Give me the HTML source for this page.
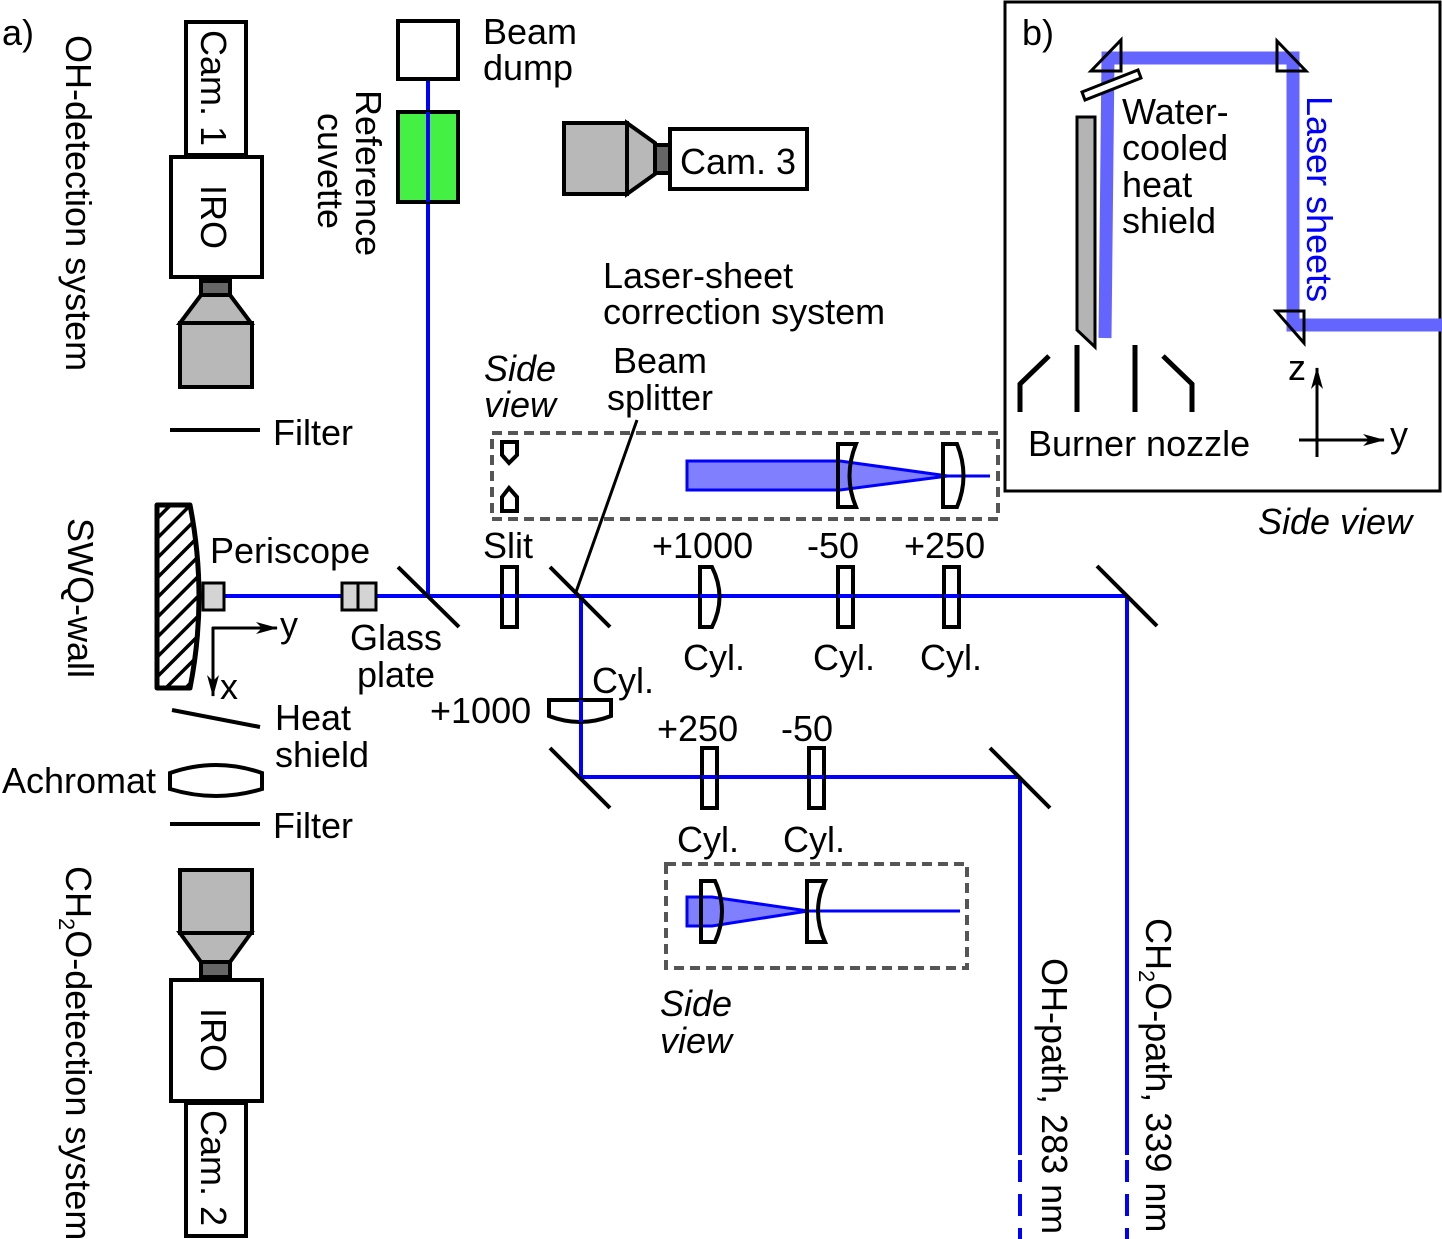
<!DOCTYPE html>
<html><head><meta charset="utf-8"><style>html,body{margin:0;padding:0;background:#fff}svg{display:block}text{font-family:"Liberation Sans",Arial,sans-serif;font-size:36px;fill:#000}</style></head><body>
<svg width="1442" height="1239" viewBox="0 0 1442 1239" xmlns="http://www.w3.org/2000/svg">
<defs>
<pattern id="h" width="14" height="14" patternUnits="userSpaceOnUse" patternTransform="rotate(45)"><rect width="14" height="14" fill="#fff"/><rect width="3.5" height="14" fill="#000"/></pattern>
<marker id="ar" markerWidth="22" markerHeight="14" refX="21" refY="7" orient="auto" markerUnits="userSpaceOnUse"><path d="M0,1 L22,7 L0,13 L6,7 Z" fill="#000"/></marker>
</defs>
<g fill="none" stroke-linecap="butt">
<g stroke="#0000ff" stroke-width="4">
<line x1="428" y1="80" x2="428" y2="596"/>
<line x1="222" y1="596" x2="1127" y2="596"/>
<line x1="1127" y1="596" x2="1127" y2="1155"/>
<line x1="1127" y1="1160" x2="1127" y2="1239" stroke-dasharray="22,12"/>
<line x1="581" y1="596" x2="581" y2="777"/>
<line x1="581" y1="777" x2="1020" y2="777"/>
<line x1="1020" y1="777" x2="1020" y2="1155"/>
<line x1="1020" y1="1160" x2="1020" y2="1239" stroke-dasharray="22,12"/>
</g>
<g stroke="#000" stroke-width="4">
<line x1="398" y1="567" x2="459" y2="627"/>
<line x1="550" y1="567" x2="610" y2="627"/>
<line x1="550" y1="748" x2="610" y2="808"/>
<line x1="990" y1="748" x2="1050" y2="808"/>
<line x1="1097" y1="566" x2="1157" y2="626"/>
<line x1="637" y1="420" x2="576" y2="592" stroke-width="3"/>
<line x1="170" y1="430" x2="260" y2="430"/>
<line x1="170" y1="824" x2="260" y2="824"/>
<line x1="172" y1="710" x2="260" y2="727"/>
</g>
<rect x="398" y="21" width="60" height="58" fill="#fff" stroke="#000" stroke-width="4"/>
<rect x="398" y="112" width="60" height="90" fill="#44f044" stroke="#000" stroke-width="4"/>
<line x1="428" y1="112" x2="428" y2="202" stroke="#0000ff" stroke-width="4"/>
<g stroke="#000" stroke-width="4">
<rect x="186" y="22" width="60" height="133" fill="#fff"/>
<rect x="171" y="157" width="91" height="120" fill="#fff"/>
<rect x="201" y="281" width="29" height="14" fill="#666"/>
<path d="M201,295 L230,295 L251,323 L180,323 Z" fill="#b8b8b8"/>
<rect x="180" y="323" width="72" height="64" fill="#b8b8b8"/>
<rect x="180" y="870" width="72" height="63" fill="#b8b8b8"/>
<path d="M180,933 L251,933 L230,962 L201,962 Z" fill="#b8b8b8"/>
<rect x="201" y="962" width="29" height="15" fill="#666"/>
<rect x="171" y="980" width="91" height="121" fill="#fff"/>
<rect x="186" y="1103" width="60" height="133" fill="#fff"/>
<rect x="564" y="123" width="63" height="71" fill="#b8b8b8"/>
<path d="M627,123 L655,143 L655,174 L627,194 Z" fill="#b8b8b8"/>
<rect x="655" y="145" width="15" height="28" fill="#666"/>
<rect x="670" y="129" width="137" height="60" fill="#fff"/>
<path d="M157,505 L190,505 Q208,597 190,688 L157,688 Z" fill="url(#h)" stroke-width="5" stroke-linejoin="round"/>
<rect x="203" y="583" width="21" height="27" fill="#d4d4d4" stroke-width="3"/>
<rect x="342" y="583" width="34" height="27" fill="#d4d4d4" stroke-width="3"/>
<line x1="358" y1="583" x2="358" y2="610" stroke-width="3"/>
<rect x="502" y="567" width="15" height="60" fill="#fff"/>
<path d="M700,567 L712,567 Q727,597 712,627 L700,627 Z" fill="#fff"/>
<rect x="838" y="567" width="15" height="60" fill="#fff"/>
<rect x="944" y="567" width="15" height="60" fill="#fff"/>
<rect x="702" y="748" width="15" height="60" fill="#fff"/>
<rect x="809" y="748" width="15" height="60" fill="#fff"/>
<path d="M549,700 L611,700 L611,716 Q580,728 549,716 Z" fill="#fff"/>
<path d="M170,773 Q216,757 262,773 L262,789 Q216,803 170,789 Z" fill="#fff"/>
</g>
<line x1="502" y1="596" x2="517" y2="596" stroke="#0000ff" stroke-width="4"/>
<line x1="838" y1="596" x2="853" y2="596" stroke="#0000ff" stroke-width="4"/>
<line x1="944" y1="596" x2="959" y2="596" stroke="#0000ff" stroke-width="4"/>
<line x1="700" y1="596" x2="718" y2="596" stroke="#0000ff" stroke-width="4"/>
<line x1="702" y1="777" x2="717" y2="777" stroke="#0000ff" stroke-width="4"/>
<line x1="809" y1="777" x2="824" y2="777" stroke="#0000ff" stroke-width="4"/>
<line x1="581" y1="700" x2="581" y2="722" stroke="#0000ff" stroke-width="4"/>
<g stroke="#000" stroke-width="3">
<line x1="212" y1="628" x2="277" y2="628" marker-end="url(#ar)"/>
<line x1="213" y1="627" x2="213" y2="696" marker-end="url(#ar)"/>
</g>
<rect x="492" y="433" width="506" height="86" stroke="#555" stroke-width="4" stroke-dasharray="10,6"/>
<path d="M502,442 L517,442 L517,455 L509,463 L502,455 Z" fill="#fff" stroke="#000" stroke-width="4"/>
<path d="M502,511 L517,511 L517,497 L509,488 L502,497 Z" fill="#fff" stroke="#000" stroke-width="4"/>
<path d="M687,461 L840,461 L948,476 L840,490 L687,490 Z" fill="#8080ff" stroke="#0000ff" stroke-width="3"/>
<line x1="948" y1="476" x2="990" y2="476" stroke="#0000ff" stroke-width="3"/>
<path d="M838,444 L856,444 Q843,476 856,507 L838,507 Z" fill="none" stroke="#000" stroke-width="4"/>
<path d="M943,444 L957,444 Q970,476 957,507 L943,507 Z" fill="none" stroke="#000" stroke-width="4"/>
<rect x="666" y="864" width="301" height="104" stroke="#555" stroke-width="4" stroke-dasharray="10,6"/>
<path d="M687,897 L712,897 L808,911 L712,926 L687,926 Z" fill="#8080ff" stroke="#0000ff" stroke-width="3"/>
<line x1="808" y1="911" x2="960" y2="911" stroke="#0000ff" stroke-width="3"/>
<path d="M701,881 L715,881 Q729,911 715,942 L701,942 Z" fill="none" stroke="#000" stroke-width="4"/>
<path d="M807,881 L825,881 Q811,911 825,942 L807,942 Z" fill="none" stroke="#000" stroke-width="4"/>
<rect x="1005" y="2" width="435" height="489" fill="#fff" stroke="#000" stroke-width="3"/>
<g stroke="#6464ff" stroke-width="13">
<polyline points="1105,338 1108,58 1293,58 1293,325 1442,325"/>
</g>
<g stroke="#000" stroke-width="3" fill="none">
<path d="M1121,40 L1121,71 L1091,71 Z"/>
<path d="M1277,41 L1277,71 L1306,71 Z"/>
<path d="M1276,311 L1304,311 L1304,343 Z"/>
<path d="M1082,92 L1138,70 L1141,78 L1085,100 Z" fill="#fff"/>
<path d="M1077,117 L1095,117 L1095,347 L1077,330 Z" fill="#b4b4b4"/>
</g>
<g stroke="#000" stroke-width="5" fill="none">
<polyline points="1020,412 1020,384 1049,356"/>
<line x1="1077" y1="345" x2="1077" y2="412"/>
<line x1="1135" y1="345" x2="1135" y2="412"/>
<polyline points="1163,356 1192,384 1192,412"/>
</g>
<g stroke="#000" stroke-width="3">
<line x1="1317" y1="457" x2="1317" y2="368" marker-end="url(#ar)"/>
<line x1="1299" y1="440" x2="1384" y2="440" marker-end="url(#ar)"/>
</g>
</g>
<text x="2" y="45">a)</text>
<text transform="translate(66,35) rotate(90)">OH-detection system</text>
<text transform="translate(68,518) rotate(90)">SWQ-wall</text>
<text transform="translate(66,866) rotate(90)">CH<tspan font-size="22" dy="7">2</tspan><tspan dy="-7">O-detection system</tspan></text>
<text transform="translate(201,30) rotate(90)">Cam. 1</text>
<text transform="translate(201,185) rotate(90)">IRO</text>
<text transform="translate(201,1008) rotate(90)">IRO</text>
<text transform="translate(201,1110) rotate(90)">Cam. 2</text>
<text transform="translate(356,90) rotate(90)">Reference</text>
<text transform="translate(318,113) rotate(90)">cuvette</text>
<text transform="translate(1042,958) rotate(90)">OH-path, 283 nm</text>
<text transform="translate(1146,918) rotate(90)">CH<tspan font-size="22" dy="7">2</tspan><tspan dy="-7">O-path, 339 nm</tspan></text>
<text x="483" y="44">Beam</text>
<text x="483" y="80">dump</text>
<text x="680" y="174">Cam. 3</text>
<text x="603" y="288">Laser-sheet</text>
<text x="603" y="324">correction system</text>
<text x="484" y="381" font-style="italic">Side</text>
<text x="484" y="417" font-style="italic">view</text>
<text x="613" y="373">Beam</text>
<text x="607" y="410">splitter</text>
<text x="273" y="445">Filter</text>
<text x="210" y="563">Periscope</text>
<text x="483" y="558">Slit</text>
<text x="652" y="558">+1000</text>
<text x="807" y="558">-50</text>
<text x="904" y="558">+250</text>
<text x="350" y="650">Glass</text>
<text x="357" y="687">plate</text>
<text x="683" y="670">Cyl.</text>
<text x="813" y="670">Cyl.</text>
<text x="920" y="670">Cyl.</text>
<text x="592" y="693">Cyl.</text>
<text x="430" y="723">+1000</text>
<text x="657" y="741">+250</text>
<text x="781" y="741">-50</text>
<text x="275" y="730">Heat</text>
<text x="275" y="767">shield</text>
<text x="2" y="793">Achromat</text>
<text x="273" y="838">Filter</text>
<text x="677" y="852">Cyl.</text>
<text x="783" y="852">Cyl.</text>
<text x="660" y="1016" font-style="italic">Side</text>
<text x="660" y="1053" font-style="italic">view</text>
<text x="280" y="637">y</text>
<text x="220" y="699" font-size="30">x</text>
<text x="1022" y="45">b)</text>
<text x="1122" y="124">Water-</text>
<text x="1122" y="160">cooled</text>
<text x="1122" y="197">heat</text>
<text x="1122" y="233">shield</text>
<text transform="translate(1307,96) rotate(90)" style="fill:#0000ff">Laser sheets</text>
<text x="1028" y="456">Burner nozzle</text>
<text x="1288" y="380" font-size="22">z</text>
<text x="1390" y="447" font-size="22">y</text>
<text x="1258" y="534" font-style="italic">Side view</text>
</svg>
</body></html>
